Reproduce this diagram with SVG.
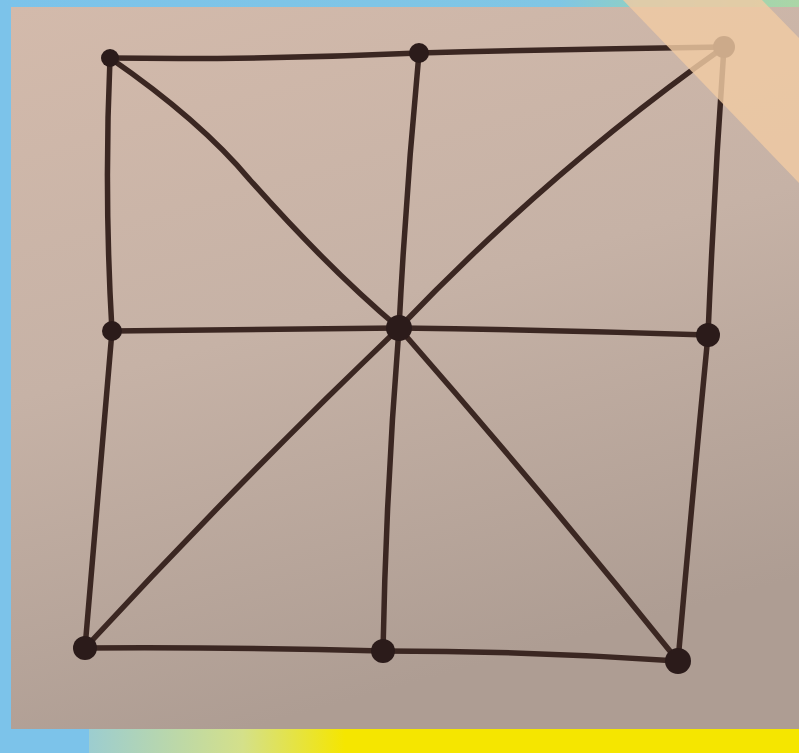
<svg xmlns="http://www.w3.org/2000/svg" width="799" height="753" viewBox="0 0 799 753">
<style>
.edge{fill:none;stroke:#3b2722;stroke-width:5.5;stroke-linecap:round;stroke-linejoin:round}
.dot{fill:#2b1b1a}
</style>
<defs>
<linearGradient id="top" x1="0" y1="0" x2="1" y2="0">
<stop offset="0" stop-color="#7cc3ea"/><stop offset="0.7" stop-color="#80c6e4"/><stop offset="0.8" stop-color="#8fcfc4"/><stop offset="1" stop-color="#abd6a6"/>
</linearGradient>
<linearGradient id="bot" x1="89" y1="0" x2="345" y2="0" gradientUnits="userSpaceOnUse">
<stop offset="0" stop-color="#9ccdd0"/><stop offset="0.6" stop-color="#d4e08a"/><stop offset="1" stop-color="#f5e600"/>
</linearGradient>
<linearGradient id="paper" x1="0" y1="0" x2="0.3" y2="1">
<stop offset="0" stop-color="#d3baab"/><stop offset="0.5" stop-color="#c6b2a6"/><stop offset="1" stop-color="#ae9d93"/>
</linearGradient>
</defs>
<rect x="0" y="0" width="799" height="753" fill="#7cc3ea"/>
<rect x="0" y="0" width="799" height="8" fill="url(#top)"/>
<rect x="89" y="729" width="710" height="24" fill="url(#bot)"/>
<rect x="11" y="7" width="788" height="722" fill="url(#paper)"/>
<g id="connectors">
<path class="edge" d="M110 58 Q265 60 419 53"/>
<path class="edge" d="M419 53 Q570 49 724 47"/>
<path class="edge" d="M110 58 Q104 195 112 331"/>
<path class="edge" d="M112 331 Q98 490 85 648"/>
<path class="edge" d="M724 47 Q714 190 708 335"/>
<path class="edge" d="M708 335 Q692 500 678 661"/>
<path class="edge" d="M85 648 Q235 647 383 651"/>
<path class="edge" d="M383 651 Q530 651 678 661"/>
<path class="edge" d="M112 331 Q255 329 399 328"/>
<path class="edge" d="M399 328 Q555 330 708 335"/>
<path class="edge" d="M419 53 Q406 190 399 328"/>
<path class="edge" d="M399 328 Q386 490 383 651"/>
<path class="edge" d="M110 58 Q200 120 250 180 Q330 270 399 328"/>
<path class="edge" d="M399 328 Q545 495 678 661"/>
<path class="edge" d="M724 47 Q550 170 399 328"/>
<path class="edge" d="M399 328 Q240 480 85 648"/>
</g>
<g id="n-tl"><circle class="dot" cx="110" cy="58" r="9"/></g>
<g id="n-tm"><circle class="dot" cx="419" cy="53" r="10"/></g>
<g id="n-tr"><circle class="dot" cx="724" cy="47" r="11"/></g>
<g id="n-ml"><circle class="dot" cx="112" cy="331" r="10"/></g>
<g id="n-c"><circle class="dot" cx="399" cy="328" r="13"/></g>
<g id="n-mr"><circle class="dot" cx="708" cy="335" r="12"/></g>
<g id="n-bl"><circle class="dot" cx="85" cy="648" r="12"/></g>
<g id="n-bm"><circle class="dot" cx="383" cy="651" r="12"/></g>
<g id="n-br"><circle class="dot" cx="678" cy="661" r="13"/></g>
<polygon points="623,0 762,0 799,38 799,183" fill="#f0cba4" opacity="0.82"/>
</svg>
